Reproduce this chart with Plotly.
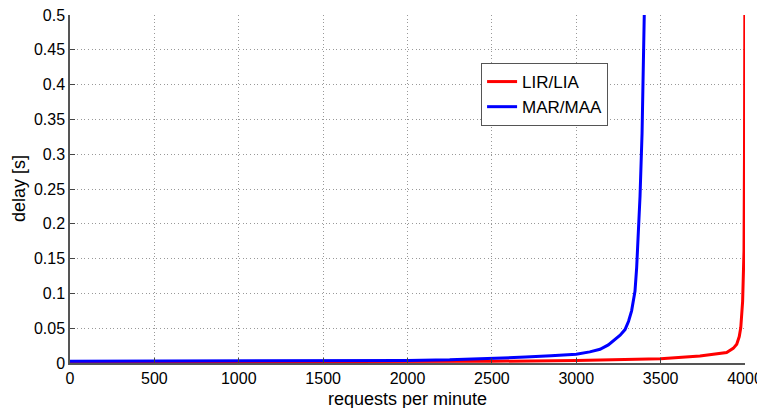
import plotly.graph_objects as go

# LIR/LIA (red)
lir_x = [0, 500, 1000, 1500, 2000, 2500, 3000, 3337, 3500, 3733, 3850, 3891, 3930, 3951,
         3966, 3975, 3986, 3994, 3997, 3999]
lir_y = [0.0015, 0.0015, 0.0015, 0.0016, 0.0018, 0.0025, 0.0035, 0.005, 0.006, 0.010,
         0.013, 0.015, 0.021, 0.027, 0.038, 0.051, 0.089, 0.161, 0.30, 0.5]

# MAR/MAA (blue)
mar_x = [0, 500, 1000, 1500, 2000, 2250, 2500, 2700, 2850, 3000, 3080, 3141, 3190, 3220,
         3260, 3289, 3310, 3328, 3348, 3358, 3368, 3378, 3390, 3397, 3403]
mar_y = [0.0025, 0.0026, 0.0028, 0.003, 0.0037, 0.0045, 0.0065, 0.0085, 0.0105, 0.0125,
         0.016, 0.0197, 0.026, 0.0316, 0.040, 0.048, 0.060, 0.075, 0.103, 0.137, 0.185,
         0.24, 0.33, 0.42, 0.5]

x_ticks = [0, 500, 1000, 1500, 2000, 2500, 3000, 3500, 4000]
y_ticks = [0, 0.05, 0.1, 0.15, 0.2, 0.25, 0.3, 0.35, 0.4, 0.45, 0.5]
y_ticktext = ["0", "0.05", "0.1", "0.15", "0.2", "0.25", "0.3", "0.35", "0.4", "0.45", "0.5"]

fig = go.Figure()
fig.add_trace(go.Scatter(x=lir_x, y=lir_y, mode="lines", name="LIR/LIA",
                         line=dict(color="#ff0000", width=3)))
fig.add_trace(go.Scatter(x=mar_x, y=mar_y, mode="lines", name="MAR/MAA",
                         line=dict(color="#0000ff", width=3)))

fam = "Liberation Sans, Arial, sans-serif"
grid = dict(showgrid=True, gridcolor="#999999", griddash="1px,2.6px", gridwidth=1)

# page body has an 8px margin, so the figure is sized to fit inside the window
fig.update_layout(
    width=757, height=401,
    margin=dict(l=62, r=20, t=7, b=46),
    paper_bgcolor="white", plot_bgcolor="white",
    font=dict(family=fam, size=16, color="#000000"),
    showlegend=True,
    legend=dict(x=0.609, y=0.862, xanchor="left", yanchor="top",
                bgcolor="white", bordercolor="#555555", borderwidth=1,
                font=dict(family=fam, size=17, color="#000"),
                itemwidth=30, tracegroupgap=0),
    xaxis=dict(range=[0, 4000], tickvals=x_ticks, ticks="inside", ticklen=5,
               tickcolor="#444444", showline=True, linecolor="#555555", linewidth=1.5,
               zeroline=False, automargin=False, ticklabeloverflow="allow",
               tickfont=dict(family=fam, size=16),
               title=dict(text="requests per minute", font=dict(family=fam, size=18)),
               **grid),
    yaxis=dict(range=[0, 0.5], tickvals=y_ticks, ticktext=y_ticktext, ticks="inside",
               ticklen=5, tickcolor="#444444", showline=True, linecolor="#555555",
               linewidth=1.5, zeroline=False, automargin=False, ticklabeloverflow="allow",
               tickfont=dict(family=fam, size=16), **grid),
    annotations=[dict(text="delay [s]", xref="paper", yref="paper", x=0, y=0.5,
                      xanchor="center", yanchor="middle", xshift=-51, textangle=-90,
                      showarrow=False, font=dict(family=fam, size=18, color="#000"))],
)

fig.write_html("out.html")
